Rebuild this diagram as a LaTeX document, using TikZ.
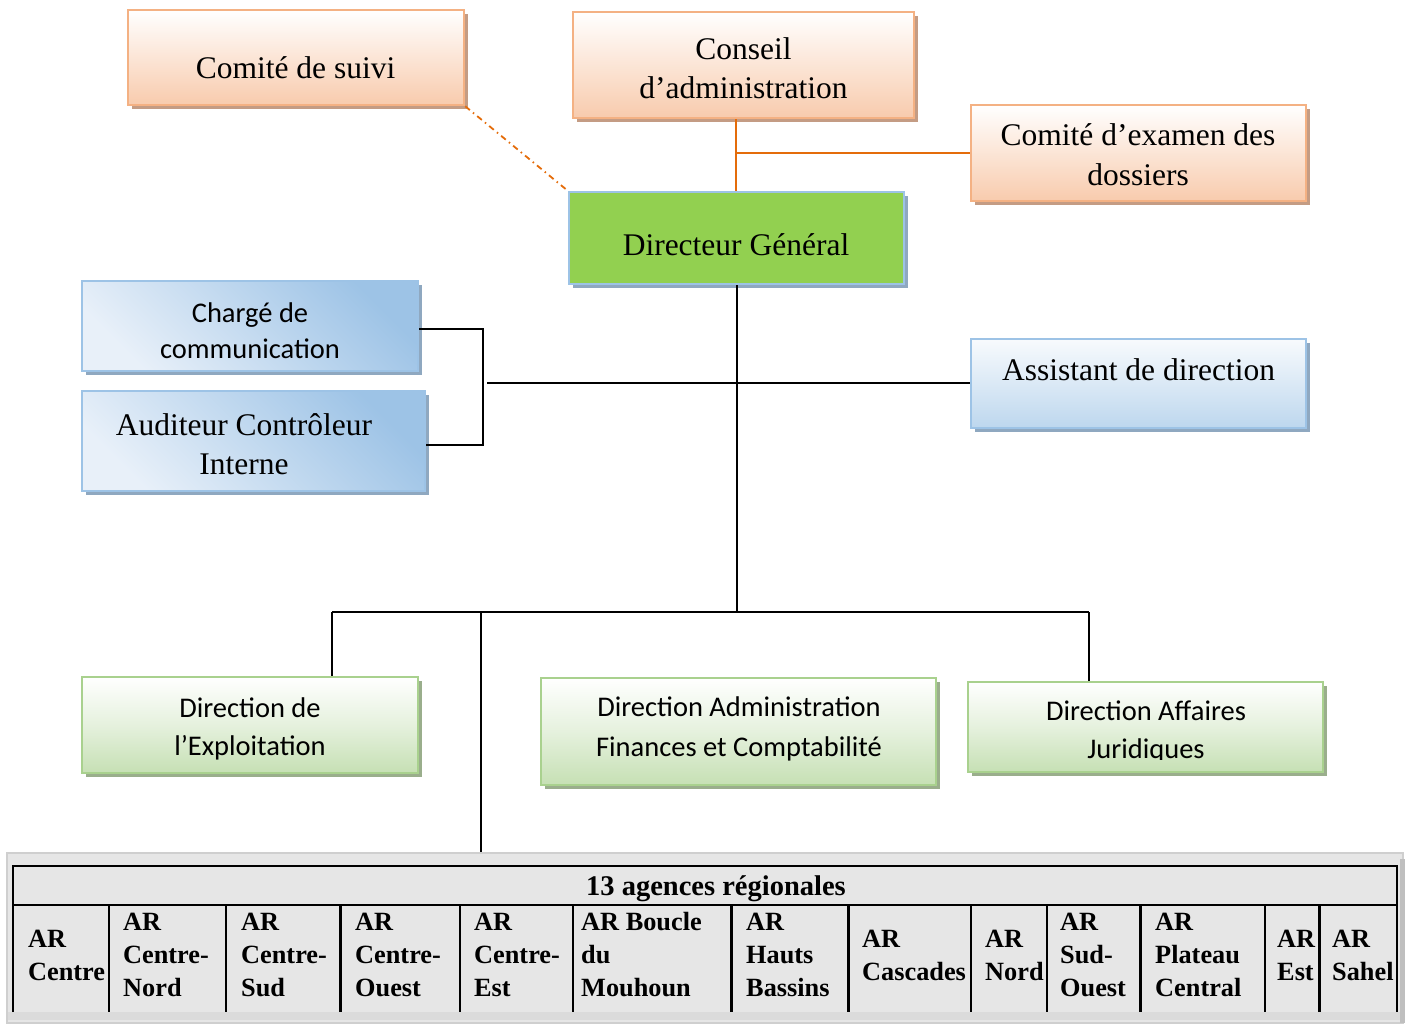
\documentclass[tikz,border=0pt]{standalone}
\usepackage{fontspec}
\setmainfont{Liberation Serif}
\newfontfamily\calib{Carlito}
\usetikzlibrary{shadows}

\definecolor{peach}{HTML}{F8CBAD}
\definecolor{peachline}{HTML}{F4B183}
\definecolor{peachshadow}{HTML}{C49C84}
\definecolor{linkorange}{HTML}{E46C0A}
\definecolor{dggreen}{HTML}{92D050}
\definecolor{skyline}{HTML}{9DC3E6}
\definecolor{skylight}{HTML}{E8F0F9}
\definecolor{skymid}{HTML}{BDD7EE}
\definecolor{skyshadow}{HTML}{8FA8C0}
\definecolor{leaf}{HTML}{C6E0B4}
\definecolor{leafline}{HTML}{A9D18E}
\definecolor{leafshadow}{HTML}{9AAE8C}
\definecolor{panel}{HTML}{E6E6E6}
\definecolor{panelline}{HTML}{CFCFCF}

% stacked lines; the baseline is that of the first line
\newcommand{\ctr}[1]{\begin{tabular}[t]{@{}c@{}}#1\end{tabular}}
\newcommand{\lft}[1]{\begin{tabular}[t]{@{}l@{}}#1\end{tabular}}

\tikzset{
  box/.style={rectangle, inner sep=0pt, line width=2.5pt},
  peachbox/.style={box, draw=peachline, top color=white, bottom color=peach, middle color=peach!50,
    general shadow={fill=peachshadow, shadow xshift=4pt, shadow yshift=-4pt}},
  dgbox/.style={box, draw=skyline, fill=dggreen,
    general shadow={fill=skyshadow, shadow xshift=4pt, shadow yshift=-4pt}},
  skybox/.style={box, draw=skyline, top color=skyline, bottom color=skylight, shading angle=-45,
    general shadow={fill=skyshadow, shadow xshift=4pt, shadow yshift=-4pt}},
  paleskybox/.style={box, draw=skyline, top color=white!70!skylight, bottom color=skymid,
    general shadow={fill=skyshadow, shadow xshift=4pt, shadow yshift=-4pt}},
  leafbox/.style={box, draw=leafline, top color=white, bottom color=leaf, middle color=leaf!45,
    general shadow={fill=leafshadow, shadow xshift=4pt, shadow yshift=-4pt}},
  serif/.style={inner sep=0pt, anchor=base, font=\fontsize{31.5}{39.5}\selectfont},
  sans/.style={inner sep=0pt, anchor=base, font=\calib\fontsize{28.5}{38}\selectfont},
  cell/.style={inner sep=0pt, anchor=base west, font=\bfseries\fontsize{26.3}{33.3}\selectfont},
  link/.style={draw=black, line width=2pt},
  olink/.style={draw=linkorange, line width=2pt},
  dashlink/.style={draw=linkorange, line width=1.8pt, dash pattern=on 6pt off 4pt on 1.5pt off 4pt},
  grid/.style={draw=black, line width=2.5pt}
}

\begin{document}
\begin{tikzpicture}[x=1pt, y=-1pt]
\useasboundingbox (0,0) rectangle (1410,1023);

% governing bodies
\node[peachbox, minimum width=336pt, minimum height=95pt] (suivi) at (296,57.5) {};
\node[peachbox, minimum width=341pt, minimum height=106pt] (conseil) at (743.5,65) {};
\node[peachbox, minimum width=335pt, minimum height=96pt] (examen) at (1138.5,153) {};
\node[dgbox, minimum width=335pt, minimum height=92pt] (dg) at (736.5,238) {};

% staff positions
\node[skybox, minimum width=336pt, minimum height=90pt] (charge) at (250,326) {};
\node[skybox, minimum width=343pt, minimum height=100pt] (auditeur) at (253.5,441) {};
\node[paleskybox, minimum width=335pt, minimum height=89pt] (assistant) at (1138.5,383.5) {};

% directorates
\node[leafbox, minimum width=336pt, minimum height=96pt] (exploit) at (250,725) {};
\node[leafbox, minimum width=395pt, minimum height=107pt] (daf) at (738.5,731.5) {};
\node[leafbox, minimum width=355pt, minimum height=90pt] (daj) at (1145.5,727) {};

% labels
\node[serif] (suivi-t) at (295.5,78) {Comité de suivi};
\node[serif] (conseil-t) at (743.5,59) {\ctr{Conseil\\d’administration}};
\node[serif] (examen-t) at (1138,145.5) {\ctr{Comité d’examen des\\dossiers}};
\node[serif] (dg-t) at (736,255) {Directeur Général};
\node[sans, font=\calib\fontsize{28.5}{36}\selectfont] (charge-t) at (250,322) {\ctr{Chargé de\\communication}};
\node[serif, font=\fontsize{31.5}{39}\selectfont] (auditeur-t) at (244,435) {\ctr{Auditeur Contrôleur\\Interne}};
\node[serif] (assistant-t) at (1138.5,380) {Assistant de direction};
\node[sans] (exploit-t) at (250,717.5) {\ctr{Direction de\\l’Exploitation}};
\node[sans, font=\calib\fontsize{28.5}{40}\selectfont] (daf-t) at (739,716.7) {\ctr{Direction Administration\\Finances et Comptabilité}};
\begin{scope}
  \clip (970,684) rectangle (1320,759.5);
  \node[sans] (daj-t) at (1146,720) {\ctr{Direction Affaires\\Juridiques}};
\end{scope}

% board links
\coordinate (ojoin) at (736,153);
\draw[olink] (conseil.south -| ojoin) -- (dg.north -| ojoin);
\draw[olink] (ojoin) -- (examen.west);
\draw[dashlink] (suivi.south east) -- (dg.north west);

% staff links
\coordinate (trunk) at (736.5,612);
\coordinate (brk) at (483,383);
\coordinate (hstart) at (487,383);
\draw[link] (dg.south) -- (trunk);
\draw[link] ([yshift=-3pt]charge.east) -| (brk) |- ([yshift=-4pt]auditeur.east);
\draw[link] (hstart) -- (hstart -| assistant.west);

% regional agencies panel
\node[rectangle, inner sep=0pt, fill=panel, draw=panelline, line width=1.5pt,
      minimum width=1396pt, minimum height=170pt] (agences) at (705,938) {};
\fill[black!25] (1400,859) rectangle (1404.5,1023);
\fill[black!14] (8,1012) rectangle (1400,1020);
\draw[grid] (13,1012) -- (13,866) -- (1397,866) -- (1397,1012);
\draw[grid] (13,905) -- (1397,905);
\foreach \x in {109,226,340.5,460,573,731.5,848.5,971,1047,1140.5,1265,1319.5}
  \draw[grid] (\x,905) -- (\x,1012);
\node[inner sep=0pt, anchor=base, font=\bfseries\fontsize{28.5}{33}\selectfont] (hdr) at (716,895) {13 agences régionales};
\foreach \n/\x/\y/\t in {
  1/28/947/{AR\\Centre},
  2/123/930/{AR\\Centre-\\Nord},
  3/241/930/{AR\\Centre-\\Sud},
  4/355/930/{AR\\Centre-\\Ouest},
  5/474/930/{AR\\Centre-\\Est},
  6/581/930/{AR Boucle\\du\\Mouhoun},
  7/746/930/{AR\\Hauts\\Bassins},
  8/862/947/{AR\\Cascades},
  9/985/947/{AR\\Nord},
  10/1060/930/{AR\\Sud-\\Ouest},
  11/1155/930/{AR\\Plateau\\Central},
  12/1277/947/{AR\\Est},
  13/1332/947/{AR\\Sahel}}
  \node[cell] (ar\n) at (\x,\y) {\lft{\t}};

% directorate links
\coordinate (busL) at (332,612);
\coordinate (busT) at (481,612);
\coordinate (busR) at (1089,612);
\draw[link] (busL) -- (busR);
\draw[link] (busL) -- (busL |- exploit.north);
\draw[link] (busR) -- (busR |- daj.north);
\draw[link] (busT) -- (busT |- agences.north);
\end{tikzpicture}
\end{document}
